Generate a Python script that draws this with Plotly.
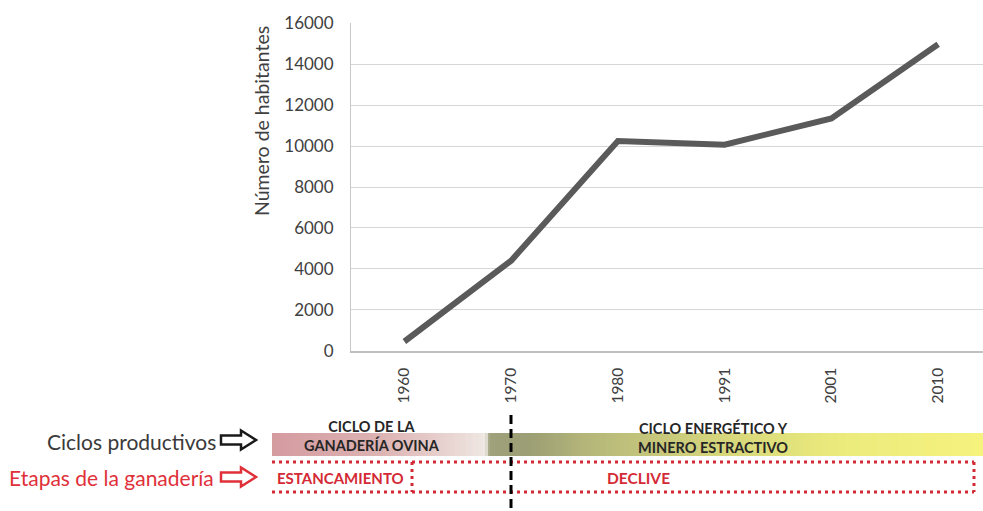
import plotly.graph_objects as go

W, H = 983, 511

years = ["1960", "1970", "1980", "1991", "2001", "2010"]
habitantes = [450, 4400, 10250, 10070, 11350, 14980]
y_ticks = [0, 2000, 4000, 6000, 8000, 10000, 12000, 14000, 16000]

ciclo_labels = ["CICLO DE LA<br>GANADERÍA OVINA", "CICLO ENERGÉTICO Y<br>MINERO ESTRACTIVO"]
etapa_labels = ["ESTANCAMIENTO", "DECLIVE"]
row_labels = ["Ciclos productivos", "Etapas de la ganadería"]

# gradient colours of the "ciclos" band (decoration)
band_stops = [
    (0.00, "#d59ca0"),
    (0.15, "#dcb2b2"),
    (0.27, "#ebdcd8"),
    (0.30, "#efe8e2"),
    (0.305, "#9fa17c"),
    (0.36, "#9c9e74"),
    (0.45, "#b6b87a"),
    (0.62, "#d4d47c"),
    (0.80, "#ebeb7c"),
    (1.00, "#f6f27e"),
]

FONT = "Lato, 'Open Sans', sans-serif"
TXT = "#404040"
RED = "#d42a35"


def X(px):
    return px / W


def Y(py):
    return 1 - py / H


fig = go.Figure()

fig.add_trace(go.Scatter(
    x=years, y=habitantes, mode="lines",
    line=dict(color="#5a5a5a", width=6),
    hoverinfo="x+y", showlegend=False,
))

# gradient band as heatmap on its own axes
N = 300
fig.add_trace(go.Heatmap(
    z=[list(range(N))], x=list(range(N)), y=[0],
    colorscale=[[p, c] for p, c in band_stops],
    showscale=False, hoverinfo="skip",
    xaxis="x2", yaxis="y2",
))

x0_band, x1_band = 272, 983
top_band, bot_band = 433, 456

fig.update_layout(
    width=W, height=H,
    margin=dict(l=0, r=0, t=0, b=0),
    paper_bgcolor="white", plot_bgcolor="white",
    font=dict(family=FONT, color=TXT),
    xaxis=dict(
        domain=[X(351), 1.0], type="category",
        range=[-0.5, 5.42], showgrid=False,
        showline=True, linecolor="#c0c0c0", linewidth=1.5,
        tickangle=-90, tickfont=dict(size=15.5, color=TXT),
        ticks="", ticklabelstandoff=9, automargin=False,
    ),
    yaxis=dict(
        domain=[Y(350.7), Y(23.3)], range=[0, 16000],
        tickvals=y_ticks, tickformat="d",
        showgrid=True, gridcolor="#d6d6d6", gridwidth=1,
        showline=True, linecolor="#c8c8c8", linewidth=1,
        zeroline=False, ticks="", ticklabelstandoff=13,
        tickfont=dict(size=17, color=TXT), automargin=False,
    ),
    xaxis2=dict(domain=[X(x0_band), X(x1_band)], anchor="y2",
                range=[-0.5, N - 0.5], visible=False, fixedrange=True),
    yaxis2=dict(domain=[Y(bot_band), Y(top_band)], anchor="x2",
                range=[-0.5, 0.5], visible=False, fixedrange=True),
)

annotations = []
# y-axis title
annotations.append(dict(
    x=X(262), y=Y(121), xref="paper", yref="paper",
    text="Número de habitantes", textangle=-90, showarrow=False,
    font=dict(size=19.5, color=TXT, family=FONT),
    xanchor="center", yanchor="middle",
))
# row labels
annotations.append(dict(
    x=X(218), y=Y(441), xref="paper", yref="paper", text=row_labels[0],
    showarrow=False, xanchor="right", yanchor="middle",
    font=dict(size=21, color="#3a3a3a", family=FONT),
))
annotations.append(dict(
    x=X(216), y=Y(477), xref="paper", yref="paper", text=row_labels[1],
    showarrow=False, xanchor="right", yanchor="middle",
    font=dict(size=21, color="#e0303a", family=FONT),
))
# cycle labels
annotations.append(dict(
    x=X(372), y=Y(436), xref="paper", yref="paper", text="<b>" + ciclo_labels[0].replace("<br>", "</b><br><b>") + "</b>",
    showarrow=False, xanchor="center", yanchor="middle",
    font=dict(size=14.5, color="#262626", family=FONT), align="center",
))
annotations.append(dict(
    x=X(713), y=Y(437), xref="paper", yref="paper", text="<b>" + ciclo_labels[1].replace("<br>", "</b><br><b>") + "</b>",
    showarrow=False, xanchor="center", yanchor="middle",
    font=dict(size=14.5, color="#262626", family=FONT), align="center",
))
# stage labels
annotations.append(dict(
    x=X(275), y=Y(478), xref="paper", yref="paper", text="<b>" + etapa_labels[0] + "</b>",
    showarrow=False, xanchor="left", yanchor="middle",
    font=dict(size=15, color=RED, family=FONT),
))
annotations.append(dict(
    x=X(638), y=Y(478), xref="paper", yref="paper", text="<b>" + etapa_labels[1] + "</b>",
    showarrow=False, xanchor="center", yanchor="middle",
    font=dict(size=15.5, color=RED, family=FONT),
))
fig.update_layout(annotations=annotations)


def arrow_path(x0, yc):
    pts = [(x0, yc - 4.5), (x0 + 20, yc - 4.5), (x0 + 20, yc - 9.5), (x0 + 35, yc),
           (x0 + 20, yc + 9.5), (x0 + 20, yc + 4.5), (x0, yc + 4.5)]
    d = "M " + " L ".join(f"{X(a):.5f},{Y(b):.5f}" for a, b in pts) + " Z"
    return d


shapes = []
shapes.append(dict(type="path", xref="paper", yref="paper", path=arrow_path(221, 440),
                   line=dict(color="#1a1a1a", width=2.5), fillcolor="white"))
shapes.append(dict(type="path", xref="paper", yref="paper", path=arrow_path(221, 477),
                   line=dict(color="#e0303a", width=2.5), fillcolor="white"))

dot = "3px,4px"
box_top, box_bot, box_l, box_r, box_mid = 462, 492, 272, 974, 412
for (xa, ya, xb, yb) in [(box_l, box_top, box_r, box_top), (box_l, box_bot, box_r, box_bot),
                         (box_r, box_top, box_r, box_bot), (box_mid, box_top, box_mid, box_bot)]:
    shapes.append(dict(type="line", xref="paper", yref="paper",
                       x0=X(xa), y0=Y(ya), x1=X(xb), y1=Y(yb),
                       line=dict(color=RED, width=3, dash=dot)))

shapes.append(dict(type="line", xref="paper", yref="paper",
                   x0=X(511), y0=Y(415), x1=X(511), y1=Y(511),
                   line=dict(color="black", width=3, dash="9px,5px")))

fig.update_layout(shapes=shapes)

fig.write_html(
    "out.html",
    config={"displayModeBar": False},
    post_script="document.body.style.margin='0';document.body.style.overflow='hidden';",
)
